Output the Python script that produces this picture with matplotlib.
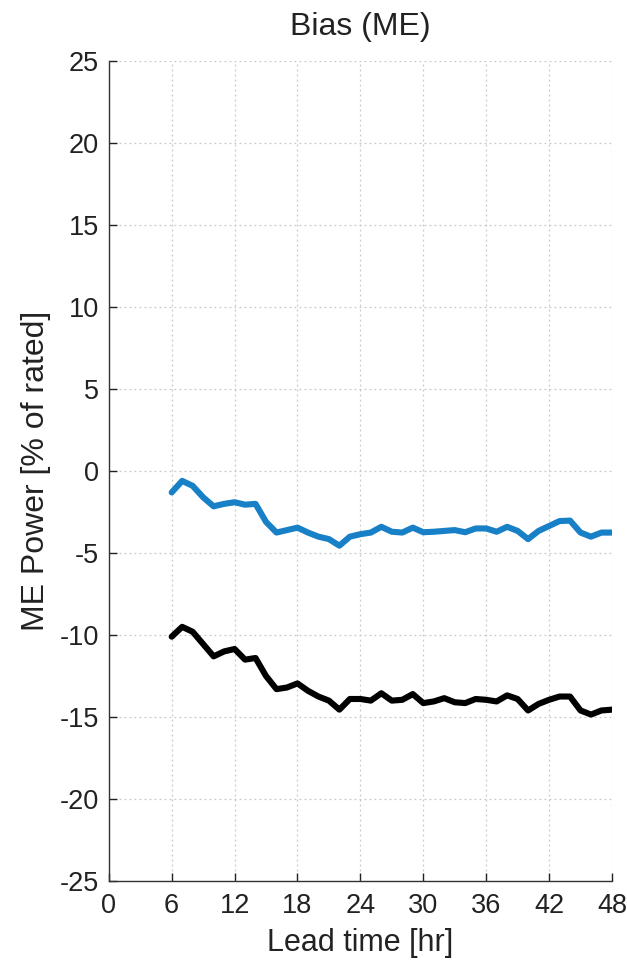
import matplotlib
matplotlib.use("Agg")
import matplotlib.pyplot as plt

plt.rcParams['font.family'] = ['Liberation Sans', 'DejaVu Sans']
plt.rcParams['axes.unicode_minus'] = False

lead_hours = list(range(6, 49))

me_blue = [-1.3, -0.6, -0.9, -1.6, -2.15, -2.0, -1.9, -2.05, -2.0, -3.1,
           -3.75, -3.6, -3.45, -3.75, -4.0, -4.15, -4.55, -4.0, -3.85, -3.75,
           -3.4, -3.7, -3.75, -3.45, -3.73, -3.7, -3.65, -3.6, -3.73, -3.5,
           -3.5, -3.7, -3.4, -3.65, -4.15, -3.65, -3.35, -3.05, -3.02, -3.75,
           -4.0, -3.75, -3.75]

me_black = [-10.1, -9.5, -9.8, -10.55, -11.3, -11.0, -10.85, -11.5, -11.4, -12.5,
            -13.3, -13.2, -12.95, -13.4, -13.75, -14.0, -14.55, -13.9, -13.9, -14.0,
            -13.55, -14.0, -13.95, -13.6, -14.15, -14.05, -13.85, -14.1, -14.15, -13.9,
            -13.95, -14.05, -13.68, -13.9, -14.6, -14.2, -13.95, -13.75, -13.75, -14.6,
            -14.85, -14.6, -14.55]

x_ticks = [0, 6, 12, 18, 24, 30, 36, 42, 48]
y_ticks = [-25, -20, -15, -10, -5, 0, 5, 10, 15, 20, 25]

fig = plt.figure(figsize=(6.27, 9.6), dpi=100)
ax = fig.add_axes([0.1735, 0.0823, 0.8025, 0.854])

ax.plot(lead_hours, me_blue, color='#1780c6', lw=4.4,
        solid_joinstyle='round', solid_capstyle='round')
ax.plot(lead_hours, me_black, color='#000000', lw=4.4,
        solid_joinstyle='round', solid_capstyle='round')

ax.set_xlim(0, 48)
ax.set_ylim(-25, 25)
ax.set_xticks(x_ticks)
ax.set_yticks(y_ticks)
ax.tick_params(direction='in', length=6, width=1, labelsize=19.5, colors='#222222')
ax.tick_params(axis='x', pad=9)
ax.tick_params(axis='y', pad=7)

ax.grid(True, linestyle=(0, (1.5, 2.5)), color='#c8c8c8', linewidth=0.9)
ax.set_axisbelow(True)

for side in ('top', 'right'):
    ax.spines[side].set_visible(False)
for side in ('left', 'bottom'):
    ax.spines[side].set_color('#333333')
    ax.spines[side].set_linewidth(1.0)

ax.set_title('Bias (ME)', fontsize=23, color='#222222', pad=19)
ax.set_xlabel('Lead time [hr]', fontsize=22, color='#222222', labelpad=6)
ax.set_ylabel('ME Power [% of rated]', fontsize=23, color='#222222', labelpad=6)

fig.savefig('out.png', dpi=100)
